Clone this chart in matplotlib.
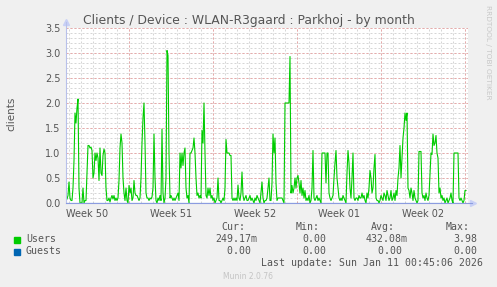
import numpy as np
import matplotlib
matplotlib.use("Agg")
import matplotlib.pyplot as plt

# clients per 2 hour step
users = [
    0.05, 0.08, 0.15, 0.42, 0.10, 0.05, 0.05, 0.30, 0.85, 1.80,
    1.60, 1.90, 2.08, 0.30, 0.00, 0.00, 0.00, 0.30, 0.00, 0.05,
    0.05, 0.60, 1.15, 1.15, 1.10, 1.12, 1.05, 0.50, 0.60, 1.00,
    0.85, 1.00, 0.90, 0.45, 1.10, 0.60, 0.55, 0.95, 1.08, 1.00,
    0.30, 0.05, 0.05, 0.10, 0.02, 0.10, 0.15, 0.08, 0.15, 0.05,
    0.10, 0.05, 0.10, 0.45, 1.10, 1.38, 1.20, 0.50, 0.20, 0.05,
    0.30, 0.05, 0.00, 0.35, 0.20, 0.30, 0.05, 0.10, 0.45, 0.20,
    0.15, 0.15, 0.10, 0.05, 0.10, 0.50, 1.20, 1.70, 2.00, 1.20,
    0.20, 0.10, 0.10, 0.05, 0.10, 0.08, 0.12, 0.30, 1.38, 0.50,
    0.05, 0.00, 0.10, 0.05, 0.15, 0.05, 1.48, 0.20, 0.00, 0.10,
    0.50, 3.05, 2.95, 1.00, 0.10, 0.15, 0.10, 0.05, 0.10, 0.05,
    0.10, 0.15, 0.20, 0.05, 1.00, 0.70, 1.00, 0.75, 1.00, 1.10,
    0.30, 0.10, 0.15, 0.00, 1.00, 1.00, 1.05, 1.10, 1.30, 1.00,
    0.50, 0.15, 0.20, 0.10, 0.15, 0.10, 1.45, 1.20, 2.00, 1.00,
    0.15, 0.10, 0.30, 0.15, 0.30, 0.10, 0.15, 0.05, 0.10, 0.00,
    0.05, 0.10, 0.50, 0.05, 0.05, 0.00, 0.05, 0.10, 0.05, 0.30,
    1.27, 1.00, 1.00, 1.00, 0.95, 0.95, 0.10, 0.05, 0.10, 0.05,
    0.10, 0.05, 0.36, 0.10, 0.05, 0.20, 0.62, 0.15, 0.05, 0.10,
    0.15, 0.05, 0.05, 0.10, 0.15, 0.05, 0.10, 0.05, 0.00, 0.10,
    0.05, 0.15, 0.10, 0.05, 0.00, 0.20, 0.42, 0.10, 0.00, 0.05,
    0.05, 0.10, 0.30, 0.50, 0.05, 0.05, 0.40, 1.38, 1.00, 1.30,
    0.40, 0.05, 0.10, 0.10, 0.10, 0.10, 0.10, 0.05, 0.00, 2.00,
    2.00, 2.00, 2.00, 2.00, 2.93, 0.20, 0.35, 0.20, 0.30, 0.50,
    0.30, 0.50, 0.55, 0.40, 0.20, 0.45, 0.15, 0.30, 0.10, 0.25,
    0.05, 0.10, 0.05, 0.15, 0.00, 0.05, 0.30, 1.05, 0.10, 0.05,
    0.10, 0.15, 0.05, 0.10, 0.05, 0.00, 1.00, 1.00, 1.00, 1.00,
    0.40, 1.00, 1.00, 0.20, 0.10, 0.05, 0.10, 0.15, 0.50, 0.80,
    1.05, 0.50, 0.30, 0.10, 0.05, 0.10, 0.05, 0.15, 0.10, 0.05,
    0.00, 0.60, 1.05, 0.80, 0.30, 0.10, 0.50, 1.00, 0.10, 0.05,
    0.10, 0.10, 0.05, 0.15, 0.10, 0.10, 0.20, 0.10, 0.15, 0.05,
    0.00, 0.20, 0.10, 0.30, 0.65, 0.50, 0.20, 0.30, 0.70, 0.97,
    0.10, 0.05, 0.05, 0.00, 0.05, 0.15, 0.10, 0.05, 0.20, 0.15,
    0.05, 0.25, 0.15, 0.05, 0.10, 0.25, 0.05, 0.10, 0.20, 0.05,
    0.25, 0.15, 0.50, 0.70, 1.15, 0.50, 0.90, 1.30, 1.50, 1.80,
    1.65, 1.80, 0.30, 0.25, 0.10, 0.30, 0.20, 0.05, 0.25, 0.10,
    0.05, 0.00, 0.05, 1.03, 1.03, 1.03, 0.20, 0.10, 0.15, 0.05,
    0.20, 0.10, 0.05, 0.15, 0.60, 1.00, 0.97, 1.38, 1.15, 1.20,
    1.35, 1.00, 0.90, 0.20, 0.30, 0.10, 0.15, 0.05, 0.10, 0.00,
    0.05, 0.10, 0.00, 0.05, 0.10, 0.20, 0.05, 0.00, 1.00, 1.00,
    1.00, 1.00, 1.00, 0.10, 0.05, 0.10, 0.05, 0.00, 0.05, 0.25,
    0.25,
]
guests = [0.0] * len(users)

week_labels = ["Week 50", "Week 51", "Week 52", "Week 01", "Week 02"]
yticks = [0.0, 0.5, 1.0, 1.5, 2.0, 2.5, 3.0, 3.5]

stats_head = ["Cur:", "Min:", "Avg:", "Max:"]
users_stats = ["249.17m", "0.00", "432.08m", "3.98"]
guests_stats = ["0.00", "0.00", "0.00", "0.00"]

W, H = 497, 287
hours = np.arange(len(users)) * 2

fig = plt.figure(figsize=(W / 100, H / 100), dpi=100, facecolor="#F0F0F0")


def fx(x):
    return x / W


def fy(y):
    return 1 - y / H


ax = fig.add_axes([fx(66), fy(203), fx(468) - fx(66), fy(28) - fy(203)])
ax.set_facecolor("white")
ax.set_xlim(0, 804)
ax.set_ylim(0, 3.5)
for s in ax.spines.values():
    s.set_visible(False)

# grid
dash = (0, (2, 2))
for h in range(6, 804, 24):
    ax.axvline(h, color="#D6D6D6", lw=0.72, ls=dash, zorder=1)
for v in np.arange(0.1, 3.51, 0.1):
    ax.axhline(v, color="#D6D6D6", lw=0.72, ls=dash, zorder=1)
for h in range(126, 804, 168):
    ax.axvline(h, color="#E8AAAA", lw=0.72, ls=dash, zorder=2)
for v in yticks[1:]:
    ax.axhline(v, color="#E8AAAA", lw=0.72, ls=dash, zorder=2)

ax.plot(hours, guests, color="#0066B3", lw=0.8, zorder=3)
ax.plot(hours, users, color="#00CC00", lw=0.8, zorder=4)

# axis lines with arrows
ax.plot([0, 0], [0, 1.035], transform=ax.transAxes, color="#B8C0EA", lw=0.8, clip_on=False, zorder=5)
ax.plot([0, 1.01], [0, 0], transform=ax.transAxes, color="#8C9CE0", lw=0.8, clip_on=False, zorder=5)
ax.plot([0], [1.035], transform=ax.transAxes, marker="^", color="#C8D0F6", ms=5, clip_on=False)
ax.plot([1.012], [0], transform=ax.transAxes, marker=">", color="#C8D0F6", ms=5, clip_on=False)

ax.set_yticks(yticks)
ax.set_yticklabels(["%.1f" % v for v in yticks])
ax.set_xticks([42 + 168 * i for i in range(len(week_labels))])
ax.set_xticklabels(week_labels)
ax.tick_params(length=0, labelsize=7, colors="#555555", pad=4)

fig.text(fx(248.5), fy(24), "Clients / Device : WLAN-R3gaard : Parkhoj - by month",
         ha="center", va="baseline", fontsize=8.9, color="#555555")
fig.text(fx(11), fy(114), "clients", rotation=90, ha="center", va="center",
         fontsize=7.5, color="#555555")
fig.text(fx(488), fy(5), "RRDTOOL / TOBI OETIKER", rotation=270, ha="center", va="top",
         fontsize=5.3, color="#C8C8C8")

mono = dict(family="DejaVu Sans Mono", fontsize=7.1, color="#555555", va="center")
col_right = [257, 326, 408, 477]
head_right = [245, 320, 395, 470]
for r, t in zip(head_right, stats_head):
    fig.text(fx(r), fy(227), t, ha="right", **mono)
for c, (a, b) in enumerate(zip(users_stats, guests_stats)):
    a_txt = a if a.endswith("m") or c in (1, 3) else a + " "
    b_txt = b if c in (1, 3) else b + " "
    fig.text(fx(col_right[c]), fy(239.5), a_txt, ha="right", **mono)
    fig.text(fx(col_right[c]), fy(251.5), b_txt, ha="right", **mono)

fig.patches.append(plt.Rectangle((fx(14), fy(242.5)), 6 / W, 6 / H, transform=fig.transFigure,
                                 color="#00CC00"))
fig.patches.append(plt.Rectangle((fx(14), fy(254.5)), 6 / W, 6 / H, transform=fig.transFigure,
                                 color="#0066B3"))
fig.text(fx(26), fy(239.5), "Users", ha="left", **mono)
fig.text(fx(26), fy(251.5), "Guests", ha="left", **mono)
fig.text(fx(483), fy(263), "Last update: Sun Jan 11 00:45:06 2026", ha="right", **mono)
fig.text(fx(248), fy(276.5), "Munin 2.0.76", ha="center", va="center", fontsize=5.5, color="#C4C4C4")

fig.savefig("out.png", dpi=100, facecolor=fig.get_facecolor())
